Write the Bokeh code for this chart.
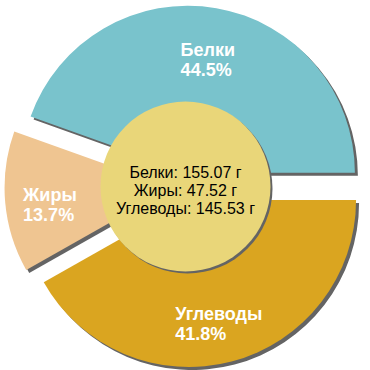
import math
from bokeh.plotting import figure
from bokeh.models import Range1d, ColumnDataSource
from bokeh.core.properties import value
from bokeh.embed import file_html
from bokeh.resources import INLINE

# ---- data ----
categories = ["Белки", "Жиры", "Углеводы"]
grams = [155.07, 47.52, 145.53]
colors = ["#79C3CC", "#EFC591", "#DAA520"]

# ---- geometry / style ----
CX, CY = 185.0, 184.0      # pie centre (data units == pixels, y up)
R = 167.0
EXPLODE = 14.0
HOLE_R = 85.0
SHADOW = 3.0
LABEL_R = 121.0
SHADOW_COLOR = "#646464"
HOLE_COLOR = "#E9D679"
FONT = "Liberation Sans"

total = sum(grams)
fractions = [g / total for g in grams]
percent_labels = [f"{f * 100:.1f}%" for f in fractions]

starts, ends, xs, ys, mids = [], [], [], [], []
acc = 0.0
for f in fractions:
    a0 = acc * 2 * math.pi
    a1 = (acc + f) * 2 * math.pi
    mid = (a0 + a1) / 2
    starts.append(a0)
    ends.append(a1)
    mids.append(mid)
    xs.append(CX + EXPLODE * math.cos(mid))
    ys.append(CY + EXPLODE * math.sin(mid))
    acc += f

src = ColumnDataSource(dict(x=xs, y=ys, start=starts, end=ends, color=colors))
shadow_src = ColumnDataSource(dict(x=[x + SHADOW for x in xs], y=[y - SHADOW for y in ys],
                                   start=starts, end=ends))

p = figure(width=370, height=370, x_range=Range1d(0, 370), y_range=Range1d(0, 370),
           output_backend="svg", toolbar_location=None, min_border=0)
p.axis.visible = False
p.grid.visible = False
p.outline_line_color = None
p.background_fill_color = "white"
p.border_fill_color = "white"

p.wedge(x="x", y="y", radius=R, start_angle="start", end_angle="end",
        fill_color=SHADOW_COLOR, line_color=None, source=shadow_src)
p.wedge(x="x", y="y", radius=R, start_angle="start", end_angle="end",
        fill_color="color", line_color=None, source=src)

# centre disc with shadow
p.circle(x=[CX + 2], y=[CY - 2], radius=HOLE_R, fill_color=SHADOW_COLOR, line_color=None)
p.circle(x=[CX], y=[CY], radius=HOLE_R, fill_color=HOLE_COLOR, line_color=None)

# slice labels (block centred on bisector, lines left aligned)
FS = 18
lx, ly, ltext = [], [], []
for name, pct, x, y, mid in zip(categories, percent_labels, xs, ys, mids):
    bx = x + LABEL_R * math.cos(mid)
    by = y + LABEL_R * math.sin(mid)
    w = 0.62 * FS * max(len(name), len(pct))
    left = bx - w / 2
    lx += [left, left]
    ly += [by + 3.3, by - 16.7]
    ltext += [name, pct]
p.text(x=lx, y=ly, text=ltext, text_color="white", text_font=value(FONT),
       text_font_style="bold", text_font_size=f"{FS}px", text_align="left",
       text_baseline="alphabetic")

# centre text
center_lines = [f"{n}: {g:.2f} г" for n, g in zip(categories, grams)]
cy_lines = [CY + 14.3 - 18 * i for i in range(len(center_lines))]
p.text(x=[CX] * len(center_lines), y=cy_lines, text=center_lines, text_color="black",
       text_font=value(FONT), text_font_size="16px", text_align="center",
       text_baseline="alphabetic")

open("out.html", "w").write(file_html(p, INLINE))
